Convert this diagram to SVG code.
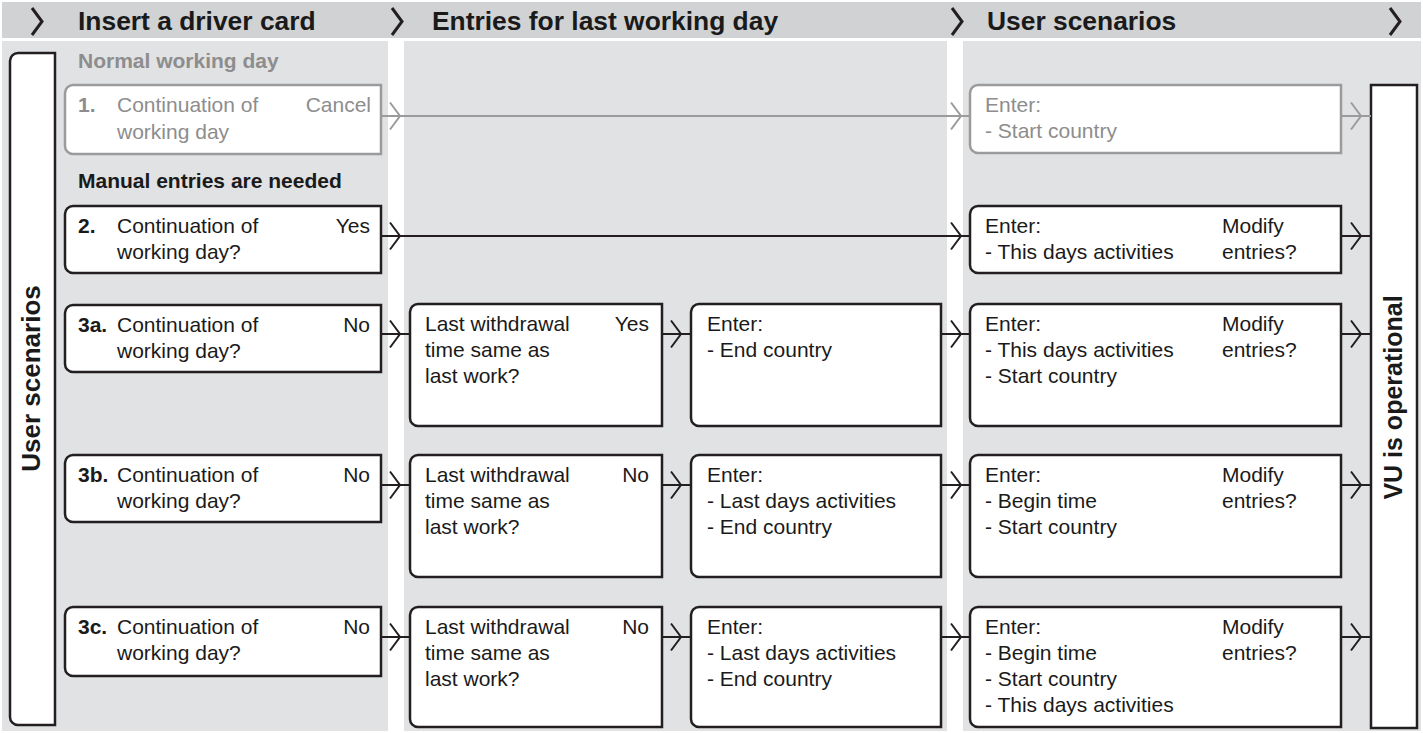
<svg xmlns="http://www.w3.org/2000/svg" width="1423" height="733" viewBox="0 0 1423 733">
<style>
.hdr{fill:#d1d2d4}
.pnl{fill:#e1e2e4}
.box{fill:#fff;stroke:#231f20;stroke-width:2.5}
.gbox{fill:#fff;stroke:#9b9b9b;stroke-width:2.5}
text{font-family:"Liberation Sans",Arial,sans-serif;font-size:21px;fill:#1a1a1a}
.b{font-weight:bold}
.g{fill:#8d8d8d}
.h{font-size:26.4px;font-weight:bold}
.v{font-weight:bold}
.e{text-anchor:end}
.ln{stroke:#231f20;stroke-width:2;fill:none}
.gln{stroke:#9b9b9b;stroke-width:2;fill:none}
.hch{stroke:#231f20;stroke-width:3;fill:none}
</style>
<defs>
<path id="chev" d="M-10,-13.5 L0,0 L-10,13.5"/>
</defs>
<rect width="1423" height="733" fill="#fff"/>
<g id="header">
<rect class="hdr" x="2" y="2" width="1419" height="36"/>
<use href="#chev" class="hch" x="42" y="21.5"/>
<use href="#chev" class="hch" x="402" y="21.5"/>
<use href="#chev" class="hch" x="962" y="21.5"/>
<use href="#chev" class="hch" x="1400" y="21.5"/>
<text class="h" x="78" y="30">Insert a driver card</text>
<text class="h" x="432" y="30">Entries for last working day</text>
<text class="h" x="987" y="30">User scenarios</text>
</g>
<g id="panels">
<rect class="pnl" x="2" y="41" width="386" height="690"/>
<rect class="pnl" x="404" y="41" width="543" height="690"/>
<rect class="pnl" x="963" y="41" width="458" height="690"/>
</g>
<g id="user-scenarios">
<path class="box" d="M18,53 H55 V725 H18 A8,8 0 0 1 10,717 V61 A8,8 0 0 1 18,53 Z"/>
<text class="v" style="font-size:26px" text-anchor="middle" transform="translate(40,378.5) rotate(-90)">User scenarios</text>
</g>
<g id="vu-operational">
<rect class="box" x="1371" y="85" width="46" height="643"/>
<text class="v" style="font-size:25px" text-anchor="middle" transform="translate(1401.5,397.5) rotate(-90)">VU is operational</text>
</g>
<g id="section-labels">
<text class="b g" x="78" y="68">Normal working day</text>
<text class="b" x="78" y="188">Manual entries are needed</text>
</g>
<g id="connectors">
<path class="gln" d="M381,116 H970 M1341,116 H1371"/>
<use href="#chev" class="gln" x="400" y="116"/>
<use href="#chev" class="gln" x="961" y="116"/>
<use href="#chev" class="gln" x="1361" y="116"/>
<path class="ln" d="M381,236 H970 M1341,236 H1371"/>
<use href="#chev" class="ln" x="400" y="236"/>
<use href="#chev" class="ln" x="961" y="236"/>
<use href="#chev" class="ln" x="1361" y="236"/>
<path class="ln" d="M381,334 H410 M662,334 H691 M941,334 H970 M1341,334 H1371"/>
<use href="#chev" class="ln" x="400" y="334"/>
<use href="#chev" class="ln" x="681" y="334"/>
<use href="#chev" class="ln" x="961" y="334"/>
<use href="#chev" class="ln" x="1361" y="334"/>
<path class="ln" d="M381,485 H410 M662,485 H691 M941,485 H970 M1341,485 H1371"/>
<use href="#chev" class="ln" x="400" y="485"/>
<use href="#chev" class="ln" x="681" y="485"/>
<use href="#chev" class="ln" x="961" y="485"/>
<use href="#chev" class="ln" x="1361" y="485"/>
<path class="ln" d="M381,637 H410 M662,637 H691 M941,637 H970 M1341,637 H1371"/>
<use href="#chev" class="ln" x="400" y="637"/>
<use href="#chev" class="ln" x="681" y="637"/>
<use href="#chev" class="ln" x="961" y="637"/>
<use href="#chev" class="ln" x="1361" y="637"/>
</g>
<g id="n1">
<path class="gbox" d="M73,85 H381 V154 H73 A8,8 0 0 1 65,146 V93 A8,8 0 0 1 73,85 Z"/>
<text class="b g" x="78" y="112">1.</text>
<text class="g" x="117" y="112">Continuation of<tspan x="117" dy="26.5">working day</tspan></text>
<text class="g e" x="371" y="112">Cancel</text>
</g>
<g id="n1-enter">
<path class="gbox" d="M978,85 H1341 V153 H978 A8,8 0 0 1 970,145 V93 A8,8 0 0 1 978,85 Z"/>
<text class="g" x="985" y="111.5">Enter:<tspan x="985" dy="26.3">- Start country</tspan></text>
</g>
<g id="n2">
<path class="box" d="M73,206 H381 V273 H73 A8,8 0 0 1 65,265 V214 A8,8 0 0 1 73,206 Z"/>
<text class="b" x="78" y="232.5">2.</text>
<text x="117" y="232.5">Continuation of<tspan x="117" dy="26.5">working day?</tspan></text>
<text class="e" x="370" y="232.5">Yes</text>
</g>
<g id="n2-enter">
<path class="box" d="M978,206 H1341 V273 H978 A8,8 0 0 1 970,265 V214 A8,8 0 0 1 978,206 Z"/>
<text x="985" y="232.5">Enter:<tspan x="985" dy="26.3">- This days activities</tspan></text>
<text x="1222" y="232.5">Modify<tspan x="1222" dy="26.3">entries?</tspan></text>
</g>
<g id="n3a">
<path class="box" d="M73,305 H381 V372 H73 A8,8 0 0 1 65,364 V313 A8,8 0 0 1 73,305 Z"/>
<text class="b" x="78" y="331.5">3a.</text>
<text x="117" y="331.5">Continuation of<tspan x="117" dy="26.5">working day?</tspan></text>
<text class="e" x="370" y="331.5">No</text>
</g>
<g id="n3a-withdrawal">
<path class="box" d="M418,304 H662 V426 H418 A8,8 0 0 1 410,418 V312 A8,8 0 0 1 418,304 Z"/>
<text x="425" y="330.5">Last withdrawal<tspan x="425" dy="26.3">time same as</tspan><tspan x="425" dy="26.3">last work?</tspan></text>
<text class="e" x="649" y="330.5">Yes</text>
</g>
<g id="n3a-last">
<path class="box" d="M699,304 H941 V426 H699 A8,8 0 0 1 691,418 V312 A8,8 0 0 1 699,304 Z"/>
<text x="707" y="330.5">Enter:<tspan x="707" dy="26.3">- End country</tspan></text>
</g>
<g id="n3a-enter">
<path class="box" d="M978,304 H1341 V426 H978 A8,8 0 0 1 970,418 V312 A8,8 0 0 1 978,304 Z"/>
<text x="985" y="330.5">Enter:<tspan x="985" dy="26.3">- This days activities</tspan><tspan x="985" dy="26.3">- Start country</tspan></text>
<text x="1222" y="330.5">Modify<tspan x="1222" dy="26.3">entries?</tspan></text>
</g>
<g id="n3b">
<path class="box" d="M73,455 H381 V522 H73 A8,8 0 0 1 65,514 V463 A8,8 0 0 1 73,455 Z"/>
<text class="b" x="78" y="481.5">3b.</text>
<text x="117" y="481.5">Continuation of<tspan x="117" dy="26.5">working day?</tspan></text>
<text class="e" x="370" y="481.5">No</text>
</g>
<g id="n3b-withdrawal">
<path class="box" d="M418,455 H662 V577 H418 A8,8 0 0 1 410,569 V463 A8,8 0 0 1 418,455 Z"/>
<text x="425" y="481.5">Last withdrawal<tspan x="425" dy="26.3">time same as</tspan><tspan x="425" dy="26.3">last work?</tspan></text>
<text class="e" x="649" y="481.5">No</text>
</g>
<g id="n3b-last">
<path class="box" d="M699,455 H941 V577 H699 A8,8 0 0 1 691,569 V463 A8,8 0 0 1 699,455 Z"/>
<text x="707" y="481.5">Enter:<tspan x="707" dy="26.3">- Last days activities</tspan><tspan x="707" dy="26.3">- End country</tspan></text>
</g>
<g id="n3b-enter">
<path class="box" d="M978,455 H1341 V577 H978 A8,8 0 0 1 970,569 V463 A8,8 0 0 1 978,455 Z"/>
<text x="985" y="481.5">Enter:<tspan x="985" dy="26.3">- Begin time</tspan><tspan x="985" dy="26.3">- Start country</tspan></text>
<text x="1222" y="481.5">Modify<tspan x="1222" dy="26.3">entries?</tspan></text>
</g>
<g id="n3c">
<path class="box" d="M73,607 H381 V676 H73 A8,8 0 0 1 65,668 V615 A8,8 0 0 1 73,607 Z"/>
<text class="b" x="78" y="633.5">3c.</text>
<text x="117" y="633.5">Continuation of<tspan x="117" dy="26.5">working day?</tspan></text>
<text class="e" x="370" y="633.5">No</text>
</g>
<g id="n3c-withdrawal">
<path class="box" d="M418,607 H662 V727 H418 A8,8 0 0 1 410,719 V615 A8,8 0 0 1 418,607 Z"/>
<text x="425" y="633.5">Last withdrawal<tspan x="425" dy="26.3">time same as</tspan><tspan x="425" dy="26.3">last work?</tspan></text>
<text class="e" x="649" y="633.5">No</text>
</g>
<g id="n3c-last">
<path class="box" d="M699,607 H941 V727 H699 A8,8 0 0 1 691,719 V615 A8,8 0 0 1 699,607 Z"/>
<text x="707" y="633.5">Enter:<tspan x="707" dy="26.3">- Last days activities</tspan><tspan x="707" dy="26.3">- End country</tspan></text>
</g>
<g id="n3c-enter">
<path class="box" d="M978,607 H1341 V727 H978 A8,8 0 0 1 970,719 V615 A8,8 0 0 1 978,607 Z"/>
<text x="985" y="633.5">Enter:<tspan x="985" dy="26.3">- Begin time</tspan><tspan x="985" dy="26.3">- Start country</tspan><tspan x="985" dy="26.3">- This days activities</tspan></text>
<text x="1222" y="633.5">Modify<tspan x="1222" dy="26.3">entries?</tspan></text>
</g>
</svg>
